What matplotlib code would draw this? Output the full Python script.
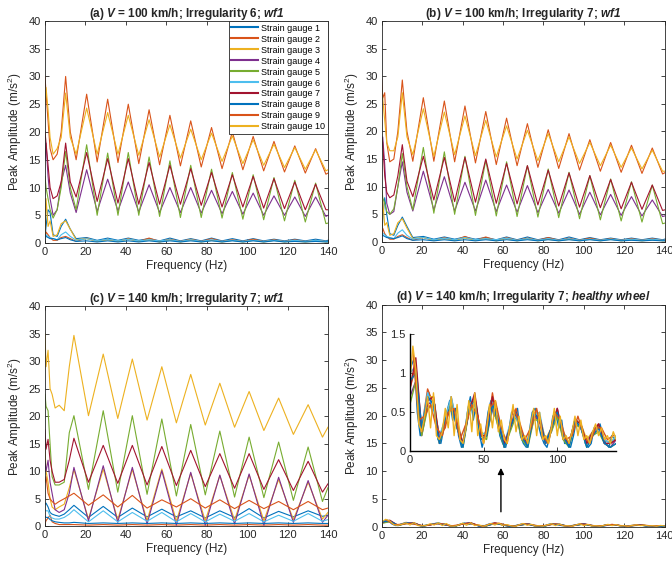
import numpy as np
import matplotlib
matplotlib.use("Agg")
import matplotlib.pyplot as plt

plt.rcParams['font.family'] = ['Liberation Sans', 'DejaVu Sans']
plt.rcParams['mathtext.fontset'] = 'custom'
plt.rcParams['mathtext.rm'] = 'Liberation Sans'
plt.rcParams['mathtext.it'] = 'Liberation Sans:italic'
plt.rcParams['mathtext.bf'] = 'Liberation Sans:bold'
plt.rcParams['mathtext.bfit'] = 'Liberation Sans:italic:bold'

# MATLAB default colour order, gauges 1..10
colors = ['#0072BD', '#D95319', '#EDB120', '#7E2F8E', '#77AC30',
          '#4DBEEE', '#A2142F', '#0072BD', '#D95319', '#EDB120']
gauge_labels = ['Strain gauge %d' % i for i in range(1, 11)]

titles = [r'(a) $\mathbfit{V}$ = 100 km/h; Irregularity 6; $\mathbfit{wf1}$',
          r'(b) $\mathbfit{V}$ = 100 km/h; Irregularity 7; $\mathbfit{wf1}$',
          r'(c) $\mathbfit{V}$ = 140 km/h; Irregularity 7; $\mathbfit{wf1}$',
          r'(d) $\mathbfit{V}$ = 140 km/h; Irregularity 7; $\mathbfit{healthy\ wheel}$']

# ---- panels (a) and (b): 100 km/h, vertices at peaks / troughs
freq_ab = [0, 0.5, 1.5, 2.5, 4, 6, 8, 10.2, 12.5, 15.4, 20.6, 25.8, 31.0, 36.1,
           41.2, 46.4, 51.5, 56.7, 61.8, 67.0, 72.1, 77.3, 82.4, 87.6, 92.7,
           97.9, 103.0, 108.2, 113.3, 118.5, 123.6, 128.8, 133.9, 139.0, 140]

a_g1 = [1.0, 3.0, 6.0, 5.5, 1.5, 1.2, 3.0, 4.3, 2.5, 0.8, 1.0, 0.5, 0.9, 0.5, 0.9, 0.5, 0.8, 0.4,
        0.9, 0.4, 0.8, 0.4, 0.9, 0.4, 0.8, 0.4, 0.8, 0.4, 0.7, 0.4, 0.7, 0.4, 0.7, 0.4, 0.5]
a_g2 = [0.5, 2.0, 1.5, 1.0, 0.5, 0.5, 1.0, 1.2, 0.8, 0.3, 0.9, 0.3, 0.7, 0.3, 0.8, 0.3, 0.9, 0.3,
        0.7, 0.3, 0.7, 0.3, 0.8, 0.3, 0.6, 0.3, 0.7, 0.3, 0.6, 0.3, 0.6, 0.3, 0.5, 0.3, 0.3]
a_g3 = [1.0, 8.0, 3.0, 4.0, 1.2, 1.5, 3.5, 4.0, 2.5, 0.6, 0.8, 0.3, 0.6, 0.3, 0.7, 0.3, 0.6, 0.2,
        0.6, 0.2, 0.6, 0.2, 0.5, 0.2, 0.5, 0.2, 0.5, 0.2, 0.5, 0.2, 0.4, 0.2, 0.4, 0.2, 0.2]
a_g4 = [15, 18, 12, 8, 5, 6, 11, 14, 9, 5.5, 13.2, 5.7, 11.5, 5.8, 11.0, 5.6, 10.5, 5.5,
        10.0, 5.5, 10.0, 5.4, 9.5, 5.3, 9.3, 5.2, 9.0, 5.0, 8.5, 5.0, 8.3, 4.8, 8.3, 4.8, 5.0]
a_g5 = [12, 10, 8, 6, 4.5, 6, 10, 16.5, 10, 6, 17.7, 5.0, 16.2, 5.0, 16.3, 5.0, 15.5, 4.8,
        14.8, 4.6, 14.0, 4.6, 13.3, 4.5, 12.7, 4.3, 12.3, 4.2, 11.8, 4.0, 11.3, 3.8, 10.8, 3.5, 3.6]
a_g6 = [0.5, 1.5, 1.2, 1.0, 0.8, 0.6, 1.5, 2.0, 1.2, 0.5, 0.8, 0.4, 0.7, 0.4, 0.7, 0.4, 0.6, 0.4,
        0.6, 0.3, 0.6, 0.3, 0.6, 0.3, 0.5, 0.3, 0.5, 0.3, 0.5, 0.3, 0.5, 0.3, 0.5, 0.3, 0.3]
a_g7 = [20, 18, 14, 10, 8, 8.5, 11, 18, 11, 8.3, 16.3, 7.5, 15.2, 7.2, 15.2, 7.0, 14.5, 7.0,
        14.0, 7.0, 13.4, 6.8, 12.7, 6.5, 12.3, 6.5, 12.0, 6.3, 11.6, 6.2, 11.0, 6.0, 10.6, 6.0, 6.0]
a_g8 = [1.5, 1.2, 1.0, 0.8, 0.8, 0.6, 0.8, 1.0, 0.6, 0.3, 0.4, 0.2, 0.4, 0.2, 0.4, 0.2, 0.4, 0.2,
        0.4, 0.2, 0.4, 0.2, 0.4, 0.2, 0.4, 0.2, 0.4, 0.2, 0.4, 0.2, 0.3, 0.2, 0.3, 0.2, 0.2]
a_g9 = [30, 27, 22, 17, 15, 16, 20, 30, 20, 15, 26.8, 14.6, 25.9, 14.5, 25.0, 14.3, 24.0, 14.1,
        23.0, 13.9, 22.0, 13.7, 20.8, 13.4, 20.0, 13.2, 19.2, 13.0, 18.3, 12.8, 17.5, 12.6, 17.0, 12.4, 12.6]
a_g10 = [25, 28, 24, 19, 16, 17, 19, 27, 19, 16, 24.3, 16.0, 23.5, 16.0, 23.0, 15.8, 22.2, 15.5,
         21.3, 15.3, 20.5, 15.0, 19.8, 14.7, 19.3, 14.3, 18.6, 14.0, 17.8, 13.6, 17.2, 13.3, 16.8, 13.0, 13.2]

b_g1 = [1.0, 4.0, 8.0, 5.0, 1.5, 1.2, 3.0, 4.5, 2.8, 0.8, 1.0, 0.5, 0.9, 0.5, 0.9, 0.5, 0.8, 0.4,
        0.9, 0.4, 0.9, 0.4, 0.8, 0.4, 0.9, 0.4, 0.8, 0.4, 0.7, 0.4, 0.7, 0.4, 0.7, 0.4, 0.5]
b_g2 = [0.5, 2.5, 1.5, 1.0, 0.5, 0.5, 1.0, 1.3, 0.8, 0.3, 0.8, 0.3, 0.8, 0.3, 1.0, 0.3, 0.9, 0.3,
        0.8, 0.3, 0.7, 0.3, 0.8, 0.3, 0.7, 0.3, 0.7, 0.3, 0.6, 0.3, 0.6, 0.3, 0.6, 0.3, 0.3]
b_g3 = [1.0, 7.5, 3.0, 3.5, 1.2, 1.5, 3.5, 4.2, 2.5, 0.6, 0.8, 0.3, 0.6, 0.3, 0.7, 0.3, 0.6, 0.2,
        0.6, 0.2, 0.6, 0.2, 0.5, 0.2, 0.5, 0.2, 0.5, 0.2, 0.5, 0.2, 0.4, 0.2, 0.4, 0.2, 0.2]
b_g4 = [17, 19, 14, 7, 5, 5.5, 10, 14.5, 9, 5.6, 12.8, 5.8, 11.8, 5.6, 10.8, 5.6, 11.2, 5.5,
        10.3, 5.4, 10.2, 5.3, 9.5, 5.2, 9.4, 5.0, 9.0, 4.9, 8.6, 4.8, 8.2, 4.7, 7.6, 4.6, 4.7]
b_g5 = [10, 8, 7, 5.5, 5, 6, 10, 16.0, 10, 5.8, 17.1, 5.2, 16.3, 5.0, 15.5, 4.8, 14.8, 4.7,
        14.5, 4.6, 13.8, 4.5, 13.2, 4.4, 12.6, 4.2, 12.0, 4.0, 11.4, 3.8, 10.9, 3.6, 10.3, 3.3, 3.4]
b_g6 = [0.6, 1.6, 1.3, 1.0, 0.8, 0.6, 1.6, 2.2, 1.2, 0.5, 0.8, 0.4, 0.7, 0.4, 0.8, 0.4, 0.6, 0.4,
        0.7, 0.3, 0.6, 0.3, 0.6, 0.3, 0.6, 0.3, 0.5, 0.3, 0.5, 0.3, 0.5, 0.3, 0.5, 0.3, 0.3]
b_g7 = [19, 18, 12, 9, 8, 8.5, 12, 17.6, 11, 8.2, 15.5, 7.6, 15.3, 7.3, 15.3, 7.2, 15.0, 7.0,
        14.2, 6.9, 13.8, 6.7, 13.0, 6.5, 12.5, 6.3, 12.0, 6.2, 11.3, 6.0, 10.8, 5.9, 10.3, 5.7, 5.8]
b_g8 = [1.4, 1.2, 1.0, 0.8, 0.7, 0.6, 0.8, 1.1, 0.6, 0.3, 0.4, 0.2, 0.4, 0.2, 0.4, 0.2, 0.4, 0.2,
        0.4, 0.2, 0.4, 0.2, 0.4, 0.2, 0.4, 0.2, 0.4, 0.2, 0.4, 0.2, 0.3, 0.2, 0.3, 0.2, 0.2]
b_g9 = [29.5, 26, 27, 18, 14.5, 15, 20, 29.3, 20, 14.6, 26.1, 14.6, 25.5, 14.5, 24.6, 14.3, 23.6, 14.0,
        22.4, 13.8, 21.4, 13.5, 20.3, 13.3, 19.6, 13.0, 18.5, 12.8, 18.0, 12.6, 17.5, 12.4, 17.0, 12.3, 12.5]
b_g10 = [27.5, 26, 22, 18, 16.5, 16.5, 19, 27, 19, 15.8, 24.1, 15.5, 23.5, 15.8, 22.8, 15.6, 22.0, 15.4,
         21.0, 15.0, 20.2, 14.7, 19.6, 14.5, 19.0, 14.2, 18.0, 13.8, 17.5, 13.5, 17.0, 13.2, 16.6, 12.8, 12.8]

# ---- panel (c): 140 km/h
freq_c = [0, 0.5, 1.5, 2.5, 3.5, 5, 7, 9.5, 12, 14.3, 21.5, 28.8, 36.0, 43.2, 50.5,
          57.8, 65.0, 72.1, 79.3, 86.5, 93.8, 101.0, 108.3, 115.6, 122.9, 130.2, 137.3, 140]

c_g1 = [4, 4.2, 3.5, 2.5, 2.2, 2, 1.8, 2.2, 3, 3.8, 1.6, 3.6, 1.6, 3.3, 1.7, 3.1, 1.7, 2.8,
        1.5, 2.8, 1.6, 3.2, 1.5, 2.7, 1.7, 2.8, 1.8, 2.0]
c_g2 = [0.5, 1.0, 1.5, 2.0, 0.8, 0.5, 0.3, 0.3, 0.3, 0.3, 0.2, 0.3, 0.2, 0.3, 0.2, 0.3, 0.2, 0.3,
        0.2, 0.3, 0.2, 0.3, 0.2, 0.3, 0.2, 0.3, 0.2, 0.2]
c_g3 = [14, 10, 8, 5, 3.5, 3, 3.5, 4, 7, 10.3, 1.3, 10.4, 1.2, 10.3, 1.0, 10.4, 0.9, 9.6,
        1.0, 9.2, 1.1, 9.3, 1.0, 8.5, 1.2, 8.0, 1.3, 2.5]
c_g4 = [11.8, 10, 12, 8, 6, 3, 2.5, 3, 6, 10.7, 1.0, 11.0, 0.7, 10.7, 0.4, 10.1, 0.2, 9.8,
        0.2, 9.3, 0.4, 9.5, 0.2, 8.9, 0.7, 8.3, 0.7, 2.0]
c_g5 = [24, 21.8, 21, 15, 9, 7.5, 7.5, 8, 17, 20.1, 6.7, 21.0, 6.2, 20.1, 5.8, 19.5, 5.5, 18.5,
        5.7, 17.3, 5.3, 16.2, 5.2, 15.3, 4.7, 14.4, 4.5, 7.0]
c_g6 = [3, 2.8, 2.8, 1.8, 1.5, 1.3, 1.3, 1.6, 2.2, 3.0, 0.8, 2.8, 0.8, 2.5, 0.9, 2.5, 0.8, 2.3,
        0.8, 2.2, 0.9, 2.3, 0.8, 2.0, 0.9, 2.3, 0.9, 1.2]
c_g7 = [17.5, 14, 15.8, 12, 10, 8, 8, 8.5, 12, 16.0, 8.0, 14.7, 7.8, 14.7, 7.5, 14.5, 7.4, 13.8,
        7.2, 13.2, 6.9, 13.2, 6.7, 12.1, 6.5, 11.8, 6.2, 7.7]
c_g8 = [1.8, 1.6, 1.6, 1.2, 1.0, 0.8, 0.7, 0.6, 0.6, 0.7, 0.5, 0.6, 0.5, 0.6, 0.5, 0.6, 0.5, 0.6,
        0.5, 0.6, 0.5, 0.6, 0.5, 0.6, 0.5, 0.6, 0.5, 0.5]
c_g9 = [8, 9, 6, 5, 4.5, 4, 4.5, 5, 5.5, 6.0, 3.8, 5.7, 3.5, 5.6, 3.3, 4.8, 3.5, 5.0,
        3.3, 4.8, 3.2, 4.7, 3.2, 4.5, 3.0, 4.5, 3.0, 3.3]
c_g10 = [35, 29, 32, 25, 24, 21.5, 22, 21, 29, 34.7, 20.1, 31.3, 19.6, 30.4, 19.3, 29.0, 18.8, 27.6,
         18.4, 26.0, 18.0, 24.5, 17.4, 23.3, 16.7, 22.1, 16.2, 18.0]

# ---- panel (d): healthy wheel, small amplitudes
freq_d2 = np.arange(0, 141, 2)      # gauge 10
freq_d1 = np.arange(1, 140, 2)      # gauge 1
freq_d4 = np.arange(0, 141, 4)      # gauges 2-8
freq_d9 = np.arange(2, 139, 4)      # gauge 9

d_g1 = [1.1, 1.2, 0.5, 0.2, 0.3, 0.6, 0.75, 0.5, 0.6, 0.15, 0.1, 0.3, 0.5, 0.65, 0.4, 0.55, 0.2, 0.05,
        0.2, 0.5, 0.7, 0.4, 0.6, 0.25, 0.05, 0.2, 0.5, 0.65, 0.45, 0.55, 0.2, 0.1, 0.05, 0.25, 0.5,
        0.45, 0.55, 0.2, 0.1, 0.05, 0.25, 0.5, 0.55, 0.35, 0.2, 0.1, 0.05, 0.2, 0.45, 0.5, 0.3, 0.4,
        0.1, 0.1, 0.05, 0.2, 0.4, 0.35, 0.3, 0.1, 0.05, 0.1, 0.3, 0.25, 0.35, 0.2, 0.1, 0.05, 0.2, 0.15]
d_g2 = [0.8, 1.1, 0.3, 0.8, 0.6, 0.2, 0.3, 0.7, 0.3, 0.1, 0.5, 0.7, 0.2, 0.2, 0.75, 0.3, 0.1, 0.3,
        0.55, 0.2, 0.1, 0.4, 0.45, 0.1, 0.3, 0.5, 0.2, 0.1, 0.4, 0.3, 0.1, 0.2, 0.35, 0.15, 0.1, 0.15]
d_g3 = [0.9, 1.0, 0.25, 0.7, 0.7, 0.15, 0.45, 0.65, 0.4, 0.1, 0.6, 0.65, 0.25, 0.2, 0.6, 0.4, 0.1, 0.3,
        0.5, 0.2, 0.1, 0.5, 0.45, 0.15, 0.3, 0.45, 0.2, 0.1, 0.4, 0.35, 0.15, 0.25, 0.3, 0.15, 0.1, 0.2]
d_g4 = [0.7, 0.9, 0.2, 0.6, 0.65, 0.1, 0.4, 0.6, 0.3, 0.1, 0.55, 0.7, 0.15, 0.2, 0.55, 0.35, 0.05, 0.3,
        0.5, 0.15, 0.1, 0.45, 0.4, 0.1, 0.25, 0.55, 0.15, 0.1, 0.35, 0.3, 0.1, 0.2, 0.3, 0.1, 0.05, 0.15]
d_g5 = [0.6, 0.9, 0.2, 0.55, 0.6, 0.1, 0.35, 0.65, 0.3, 0.05, 0.5, 0.6, 0.2, 0.15, 0.6, 0.3, 0.05, 0.25,
        0.45, 0.15, 0.05, 0.4, 0.4, 0.1, 0.25, 0.45, 0.15, 0.05, 0.35, 0.3, 0.05, 0.2, 0.25, 0.1, 0.05, 0.1]
d_g6 = [1.0, 1.1, 0.3, 0.75, 0.55, 0.2, 0.4, 0.7, 0.35, 0.1, 0.6, 0.6, 0.2, 0.25, 0.65, 0.45, 0.1, 0.35,
        0.45, 0.25, 0.1, 0.45, 0.5, 0.1, 0.3, 0.5, 0.25, 0.1, 0.4, 0.3, 0.1, 0.25, 0.3, 0.15, 0.1, 0.2]
d_g7 = [0.8, 1.2, 0.25, 0.65, 0.7, 0.15, 0.35, 0.6, 0.35, 0.1, 0.5, 0.75, 0.2, 0.2, 0.7, 0.35, 0.1, 0.3,
        0.5, 0.2, 0.1, 0.45, 0.45, 0.1, 0.3, 0.55, 0.2, 0.1, 0.4, 0.35, 0.1, 0.25, 0.35, 0.1, 0.1, 0.15]
d_g8 = [0.9, 1.0, 0.3, 0.7, 0.6, 0.1, 0.4, 0.6, 0.3, 0.05, 0.55, 0.65, 0.15, 0.2, 0.6, 0.4, 0.05, 0.3,
        0.5, 0.2, 0.05, 0.5, 0.4, 0.1, 0.3, 0.5, 0.2, 0.05, 0.4, 0.3, 0.05, 0.2, 0.3, 0.1, 0.05, 0.1]
d_g9 = [1.3, 0.4, 0.45, 0.6, 0.3, 0.2, 0.5, 0.55, 0.15, 0.35, 0.6, 0.45, 0.1, 0.55, 0.65, 0.3, 0.1, 0.55,
        0.4, 0.15, 0.3, 0.55, 0.2, 0.1, 0.5, 0.4, 0.15, 0.2, 0.45, 0.2, 0.1, 0.3, 0.3, 0.15, 0.2]
d_g10 = [0.9, 1.35, 1.05, 0.35, 0.25, 0.45, 0.7, 0.3, 0.75, 0.2, 0.15, 0.25, 0.55, 0.3, 0.7, 0.2, 0.6, 0.15,
         0.1, 0.3, 0.65, 0.25, 0.75, 0.2, 0.35, 0.1, 0.25, 0.6, 0.3, 0.65, 0.25, 0.4, 0.15, 0.1, 0.35,
         0.6, 0.25, 0.45, 0.15, 0.2, 0.1, 0.35, 0.55, 0.2, 0.5, 0.15, 0.2, 0.1, 0.3, 0.55, 0.2, 0.45,
         0.15, 0.2, 0.1, 0.25, 0.45, 0.2, 0.4, 0.15, 0.2, 0.1, 0.25, 0.35, 0.2, 0.3, 0.15, 0.2, 0.1, 0.25, 0.15]

panel_a = [(freq_ab, s) for s in [a_g1, a_g2, a_g3, a_g4, a_g5, a_g6, a_g7, a_g8, a_g9, a_g10]]
panel_b = [(freq_ab, s) for s in [b_g1, b_g2, b_g3, b_g4, b_g5, b_g6, b_g7, b_g8, b_g9, b_g10]]
panel_c = [(freq_c, s) for s in [c_g1, c_g2, c_g3, c_g4, c_g5, c_g6, c_g7, c_g8, c_g9, c_g10]]
panel_d = [(freq_d1, d_g1), (freq_d4, d_g2), (freq_d4, d_g3), (freq_d4, d_g4), (freq_d4, d_g5),
           (freq_d4, d_g6), (freq_d4, d_g7), (freq_d4, d_g8), (freq_d9, d_g9), (freq_d2, d_g10)]

txt = '#262626'
fig = plt.figure(figsize=(6.72, 5.64), dpi=100)
rects = [[0.067, 0.569, 0.421, 0.394], [0.568, 0.571, 0.421, 0.392],
         [0.067, 0.067, 0.421, 0.390], [0.568, 0.066, 0.421, 0.394]]
axes = [fig.add_axes(r) for r in rects]


def style(ax, inset=False):
    ax.tick_params(direction='in', length=3, width=0.6, colors=txt, labelsize=8,
                   top=not inset, right=not inset, pad=3)
    for sp in ax.spines.values():
        sp.set_color(txt)
        sp.set_linewidth(0.6)


for ax, data, title in zip(axes, [panel_a, panel_b, panel_c, panel_d], titles):
    for (f, s), c, lab in zip(data, colors, gauge_labels):
        ax.plot(f, s, color=c, lw=0.8, label=lab)
    ax.set_xlim(0, 140)
    ax.set_ylim(0, 40)
    ax.set_xticks(range(0, 141, 20))
    ax.set_yticks(range(0, 41, 5))
    ax.set_xlabel('Frequency (Hz)', fontsize=8.5, color=txt, labelpad=2)
    ax.set_ylabel(r'Peak Amplitude (m/s$^2$)', fontsize=8.5, color=txt, labelpad=3)
    ax.set_title(title, fontsize=8.5, fontweight='bold', color=txt, pad=3)
    style(ax)

leg = axes[0].legend(loc='upper right', fontsize=6.5, labelspacing=0.22, handlelength=2.9,
                     handletextpad=0.4, borderpad=0.3, borderaxespad=0.0, fancybox=False,
                     framealpha=1, edgecolor=txt)
leg.get_frame().set_linewidth(0.6)
for h in leg.legend_handles:
    h.set_linewidth(1.5)

# inset zoom of panel (d)
ins = fig.add_axes([0.610, 0.200, 0.307, 0.207])
for (f, s), c in zip(panel_d, colors):
    ins.plot(f, s, color=c, lw=1.0)
ins.set_xlim(0, 140)
ins.set_ylim(0, 1.5)
ins.set_xticks([0, 50, 100])
ins.set_yticks([0, 0.5, 1, 1.5])
ins.set_yticklabels(['0', '0.5', '1', '1.5'])
ins.spines['top'].set_visible(False)
ins.spines['right'].set_visible(False)
style(ins, inset=True)
for sp in ['left', 'bottom']:
    ins.spines[sp].set_color('black')
    ins.spines[sp].set_linewidth(1.0)

axes[3].annotate('', xy=(59, 10.6), xytext=(59, 2.7),
                 arrowprops=dict(arrowstyle='-|>', color='black', lw=1.0,
                                 mutation_scale=9, shrinkA=0, shrinkB=0))

fig.savefig('out.png', dpi=100, facecolor='white')
